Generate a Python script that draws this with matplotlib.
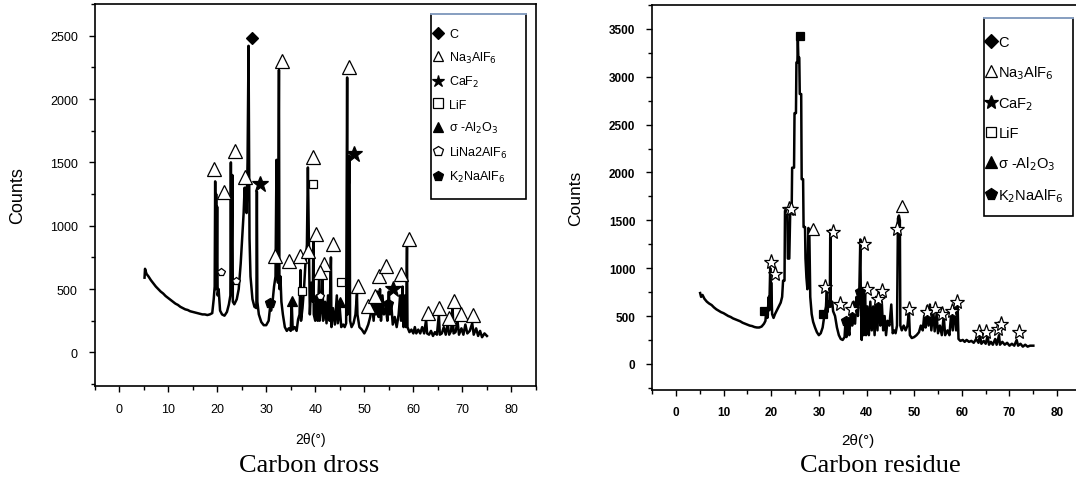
import matplotlib
matplotlib.use("Agg")
import matplotlib.pyplot as plt
from matplotlib.lines import Line2D
from matplotlib.patches import Rectangle
from matplotlib.ticker import MultipleLocator

plt.rcParams["font.family"] = ["Liberation Sans", "DejaVu Sans"]

# ---- Carbon dross pattern (2theta, counts) ----
dross_x = [5.2, 5.3, 5.6, 6.0, 6.5, 7.0, 7.5, 8.0, 8.5, 9.0, 9.5, 10.0, 10.5, 11.0, 11.5,
           12.0, 12.5, 13.0, 13.5, 14.0, 14.5, 15.0, 15.5, 16.0, 16.5, 17.0, 17.5, 18.0,
           18.5, 19.0, 19.3, 19.5, 19.6, 19.7, 19.8, 19.9, 20.0, 20.1, 20.3, 20.6, 21.0,
           21.5, 22.0, 22.4, 22.7, 22.8, 22.9, 23.1, 23.2, 23.5, 24.0, 24.4, 24.8, 25.1,
           25.4, 25.6, 25.7, 25.9, 26.0, 26.2, 26.4, 26.6, 26.8, 27.2, 27.6, 28.0, 28.1,
           28.2, 28.5, 29.0, 29.5, 30.0, 30.5, 30.8, 31.0, 31.3, 31.6, 31.9, 32.1, 32.2,
           32.4, 32.6, 32.7, 32.9, 33.1, 33.4, 33.8, 34.2, 34.6, 35.0, 35.2, 35.4, 35.8,
           36.2, 36.5, 36.8, 37.0, 37.1, 37.4, 37.7, 38.0, 38.3, 38.5, 38.7, 38.9, 39.2,
           39.5, 39.6, 39.7, 40.0, 40.3, 40.5, 40.8, 40.9, 41.2, 41.5, 41.6, 42.0, 42.3,
           42.6, 42.9, 43.2, 43.3, 43.6, 44.0, 44.4, 44.6, 45.0, 45.3, 45.7, 46.0, 46.3,
           46.5, 46.6, 46.8, 46.9, 47.0, 47.1, 47.4, 47.8, 48.2, 48.5, 48.6, 49.0, 49.5,
           50.0, 50.4, 50.8, 51.2, 51.6, 51.9, 52.2, 52.4, 52.7, 52.9, 53.2, 53.4, 53.7,
           54.0, 54.4, 54.7, 55.0, 55.2, 55.5, 55.8, 56.2, 56.6, 57.0, 57.3, 57.5, 57.8,
           58.0, 58.3, 58.5, 58.7, 58.8, 59.2, 59.6, 60.0, 60.3, 60.6, 61.0, 61.4, 61.8,
           62.2, 62.6, 62.8, 63.2, 63.6, 64.0, 64.4, 64.8, 65.2, 65.4, 65.8, 66.2, 66.6,
           67.0, 67.3, 67.7, 68.0, 68.2, 68.6, 69.0, 69.3, 69.8, 70.2, 70.6, 71.0, 71.5,
           72.0, 72.3, 72.8, 73.2, 73.6, 74.0, 74.5, 75.0]
dross_y = [590, 660, 620, 600, 570, 545, 520, 500, 480, 465, 445, 430, 415, 400, 385,
           375, 360, 350, 340, 335, 325, 320, 315, 310, 305, 300, 300, 295,
           300, 310, 420, 520, 1350, 500, 1250, 600, 1150, 450, 500, 330, 300,
           290, 320, 380, 450, 1500, 500, 1400, 400, 380, 420, 500, 700, 900,
           1100, 1300, 1150, 1300, 1100, 1500, 2420, 900, 600, 420, 360, 350, 1270,
           400, 300, 240, 215, 215, 250, 360, 330, 400, 520, 600, 1520, 650,
           550, 2230, 500, 600, 400, 300, 200, 170, 190, 170, 400, 180, 200,
           170, 260, 300, 650, 250, 350, 500, 700, 850, 1460, 900, 300, 550,
           400, 880, 300, 250, 450, 250, 600, 250, 350, 620, 250, 400, 230,
           450, 250, 750, 200, 350, 220, 450, 230, 350, 200, 220, 200, 230,
           2170, 300, 1550, 1340, 1550, 250, 200, 230, 300, 460, 300, 200, 180,
           150, 180, 220, 280, 380, 250, 420, 300, 480, 280, 500, 250, 450,
           300, 350, 250, 480, 300, 380, 220, 280, 200, 300, 450, 250, 520,
           200, 450, 200, 830, 200, 160, 180, 150, 200, 150, 180, 150, 200,
           150, 260, 150, 140, 170, 130, 160, 140, 300, 140, 150, 200, 140,
           230, 140, 170, 350, 150, 160, 250, 140, 190, 140, 220, 150, 170,
           230, 140, 190, 130, 170, 120, 150, 130]

# phase markers on the dross pattern
dross_c = ([27.1], [2479])
dross_na3alf6 = ([19.3, 21.3, 23.6, 25.7, 33.2, 39.5, 46.9, 40.2, 43.6, 31.7, 34.7, 36.9,
                  38.5, 41.8, 41.0, 48.7, 50.8, 52.9, 54.5, 57.5, 59.1, 62.9, 65.2, 68.2,
                  69.8, 72.2, 67.2, 52.2],
                 [1447, 1263, 1592, 1382, 2303, 1539, 2250, 934, 855, 763, 724, 763,
                  803, 697, 632, 526, 368, 600, 684, 618, 895, 311, 347, 408,
                  303, 295, 268, 447])
dross_caf2 = ([28.8, 47.8, 55.9], [1329, 1566, 500])
dross_lif = ([39.6, 45.3, 37.4], [1329, 553, 487])
dross_al2o3 = ([35.2, 45.0], [408, 395])
dross_lina2alf6 = ([20.7, 23.8, 41.0], [632, 566, 442])
dross_k2naalf6 = ([30.8, 54.8], [389, 382])

# ---- Carbon residue pattern ----
resid_x = [5.1, 5.3, 5.6, 6.0, 6.5, 7.0, 7.5, 8.0, 8.5, 9.0, 9.5, 10.0, 10.5, 11.0, 11.5,
           12.0, 12.5, 13.0, 13.5, 14.0, 14.5, 15.0, 15.5, 16.0, 16.5, 17.0, 17.5, 18.0,
           18.5, 18.8, 19.0, 19.2, 19.5, 19.6, 19.8, 19.9, 20.0, 20.2, 20.5, 20.8, 21.2,
           21.6, 22.0, 22.3, 22.5, 22.8, 22.9, 23.4, 23.5, 23.8, 24.0, 24.3, 24.4, 24.8,
           24.9, 25.2, 25.3, 25.5, 25.6, 25.7, 25.9, 26.0, 26.3, 26.4, 26.7, 26.8, 27.1,
           27.2, 27.4, 27.6, 27.8, 28.0, 28.2, 28.5, 28.8, 29.2, 29.6, 30.0, 30.4, 30.8,
           31.2, 31.5, 31.7, 31.8, 32.1, 32.3, 32.4, 32.5, 32.8, 33.0, 33.4, 33.8, 34.2,
           34.6, 35.0, 35.4, 35.6, 35.8, 36.1, 36.4, 36.7, 37.0, 37.3, 37.6, 37.9, 38.2,
           38.5, 38.7, 38.8, 39.0, 39.2, 39.4, 39.7, 39.9, 40.2, 40.5, 40.8, 41.1, 41.4,
           41.7, 42.0, 42.3, 42.6, 42.9, 43.2, 43.5, 43.8, 44.1, 44.4, 44.8, 45.2, 45.5,
           45.8, 46.1, 46.4, 46.6, 46.8, 47.0, 47.1, 47.4, 47.8, 48.2, 48.6, 48.9, 49.1,
           49.5, 50.0, 50.5, 51.0, 51.4, 51.8, 52.1, 52.4, 52.7, 53.0, 53.3, 53.6, 54.0,
           54.3, 54.7, 55.0, 55.4, 55.8, 56.2, 56.5, 57.0, 57.4, 57.8, 58.1, 58.5, 58.8,
           59.1, 59.3, 59.7, 60.2, 60.6, 61.0, 61.5, 62.0, 62.5, 63.0, 63.5, 63.8, 64.1,
           64.6, 65.0, 65.4, 65.7, 66.1, 66.5, 67.0, 67.3, 67.8, 68.0, 68.5, 69.0, 69.5,
           70.0, 70.5, 71.0, 71.5, 71.8, 72.3, 72.8, 73.3, 73.8, 74.3, 75.0]
resid_y = [740, 700, 720, 680, 650, 630, 615, 590, 570, 555, 540, 530, 515, 500, 490,
           475, 465, 455, 445, 430, 420, 410, 400, 395, 385, 380, 380, 390,
           420, 450, 580, 480, 700, 560, 1000, 600, 850, 520, 480, 520, 560,
           600, 640, 700, 870, 870, 1600, 1600, 1100, 1100, 1600, 1600, 2050, 2050,
           2620, 2620, 3150, 3150, 3380, 3200, 3200, 2820, 2820, 1930, 1930, 1430, 1430,
           1100, 900, 780, 1420, 1400, 700, 520, 440, 380, 330, 300, 320, 380,
           520, 600, 800, 540, 650, 600, 1400, 600, 650, 550, 500, 380, 300,
           260, 250, 280, 450, 280, 400, 300, 550, 400, 650, 420, 700, 500,
           780, 1300, 750, 250, 700, 300, 780, 300, 600, 300, 650, 350, 600,
           300, 700, 350, 760, 400, 650, 350, 500, 300, 450, 400, 620, 320,
           350, 320, 400, 1520, 1550, 1500, 400, 350, 400, 350, 400, 550, 300,
           270, 280, 300, 330, 400, 350, 500, 380, 600, 400, 620, 350, 560,
           340, 520, 320, 400, 300, 500, 300, 350, 300, 550, 350, 600, 350,
           640, 260, 240, 250, 230, 250, 230, 240, 220, 260, 220, 300, 210,
           240, 210, 290, 200, 230, 200, 260, 200, 300, 200, 230, 200, 220,
           190, 210, 190, 250, 190, 210, 180, 200, 180, 190, 190]

resid_c = ([26.0, 18.5, 30.8], [3423, 557, 522])
resid_na3alf6 = ([28.7, 47.4], [1410, 1654])
resid_caf2 = ([20.0, 20.7, 23.7, 24.2, 33.0, 39.4, 46.5, 31.2, 34.4, 36.9, 40.1, 43.3,
               42.5, 49.0, 52.6, 54.3, 55.8, 57.9, 59.0, 63.6, 65.0, 67.5, 68.2, 72.0],
              [1062, 940, 1619, 1619, 1376, 1254, 1410, 801, 627, 575, 784, 766,
               679, 575, 540, 575, 522, 557, 644, 331, 331, 366, 418, 331])
resid_k2naalf6 = ([35.8, 38.7], [453, 749])

C_LABEL = "C"
NA_LABEL = r"Na$_3$AlF$_6$"
CA_LABEL = r"CaF$_2$"
LIF_LABEL = "LiF"
AL_LABEL = r"σ -Al$_2$O$_3$"
LINA_LABEL = r"LiNa2AlF$_6$"
K_LABEL = r"K$_2$NaAlF$_6$"

W, H = 1076, 481
fig = plt.figure(figsize=(W / 100, H / 100), dpi=100)


def fx(px):
    return px / W


def fy(py):
    return 1 - py / H


def style_axes(ax, fs, bold=False):
    ax.xaxis.set_major_locator(MultipleLocator(10))
    ax.xaxis.set_minor_locator(MultipleLocator(5))
    ax.yaxis.set_major_locator(MultipleLocator(500))
    ax.yaxis.set_minor_locator(MultipleLocator(250))
    ax.set_xlim(-5, 85)
    ax.tick_params(which="both", direction="out", top=False, right=False,
                   labelsize=fs, width=1, pad=8)
    ax.tick_params(which="major", length=4)
    ax.tick_params(which="minor", length=3)
    if bold:
        for t in ax.get_xticklabels() + ax.get_yticklabels():
            t.set_fontweight("bold")
    for s in ax.spines.values():
        s.set_linewidth(1.2)


def mk(ax, pts, marker, filled, ms):
    ax.plot(pts[0], pts[1], ls="none", marker=marker, ms=ms,
            mfc="black" if filled else "white", mec="black", mew=0.9, zorder=3)


def handle(marker, filled, ms):
    return Line2D([], [], ls="none", marker=marker, ms=ms,
                  mfc="black" if filled else "white", mec="black", mew=0.9)


# ---------------- left panel ----------------
ax1 = fig.add_axes([fx(94.5), fy(387), fx(536 - 94.5), (387 - 5) / H])
ax1.plot(dross_x, dross_y, color="black", lw=1.8)
mk(ax1, dross_c, "D", True, 6.5)
mk(ax1, dross_na3alf6, "^", False, 10)
mk(ax1, dross_caf2, "*", True, 12)
mk(ax1, dross_lif, "s", False, 6)
mk(ax1, dross_al2o3, "^", True, 7)
mk(ax1, dross_lina2alf6, "p", False, 6)
mk(ax1, dross_k2naalf6, "p", True, 7)
style_axes(ax1, 9)
ax1.set_ylim(-265, 2750)
ax1.set_xlabel("2θ(°)", fontsize=10, va="center")
ax1.xaxis.set_label_coords(0.49, -0.139)
ax1.set_ylabel("Counts", fontsize=13, va="center")
ax1.yaxis.set_label_coords(-0.175, 0.5)

h1 = [handle("D", True, 6), handle("^", False, 7.5), handle("*", True, 9),
      handle("s", False, 6.5), handle("^", True, 7.5), handle("p", False, 7.5),
      handle("p", True, 7.5)]
l1 = [C_LABEL, NA_LABEL, CA_LABEL, LIF_LABEL, AL_LABEL, LINA_LABEL, K_LABEL]
fig.legend(h1, l1, loc="upper left", bbox_to_anchor=(fx(432), fy(29)),
           frameon=False, borderpad=0, borderaxespad=0, fontsize=9,
           handlelength=0.9, handletextpad=0.45, labelspacing=0.76)
fig.add_artist(Rectangle((fx(431), fy(200)), fx(526 - 431), (200 - 15) / H,
                         transform=fig.transFigure, fill=False, ec="black", lw=1.2))
fig.add_artist(Line2D([fx(431), fx(526)], [fy(15), fy(15)], transform=fig.transFigure,
                      color="#9db8e0", lw=1.2))

# ---------------- right panel ----------------
ax2 = fig.add_axes([fx(652), fy(390.7), fx(1081 - 652), (390.7 - 6) / H])
ax2.plot(resid_x, resid_y, color="black", lw=1.8)
mk(ax2, resid_c, "s", True, 5.5)
mk(ax2, resid_na3alf6, "^", False, 9)
mk(ax2, resid_caf2, "*", False, 11)
mk(ax2, resid_k2naalf6, "p", True, 7)
style_axes(ax2, 8.5, bold=True)
ax2.set_ylim(-270, 3750)
ax2.spines["right"].set_visible(False)
ax2.set_xlabel("2θ(°)", fontsize=11, va="center")
ax2.xaxis.set_label_coords(0.48, -0.13)
ax2.set_ylabel("Counts", fontsize=12.5, va="center")
ax2.yaxis.set_label_coords(-0.179, 0.5)

h2 = [handle("D", True, 7), handle("^", False, 8.5), handle("*", True, 10),
      handle("s", False, 7.5), handle("^", True, 8.5), handle("p", True, 8.5)]
l2 = [C_LABEL, NA_LABEL, CA_LABEL, LIF_LABEL, AL_LABEL, K_LABEL]
fig.legend(h2, l2, loc="upper left", bbox_to_anchor=(fx(985), fy(36)),
           frameon=False, borderpad=0, borderaxespad=0, fontsize=10.5,
           handlelength=0.8, handletextpad=0.12, labelspacing=0.97)
fig.add_artist(Rectangle((fx(984), fy(217)), fx(1073 - 984), (217 - 19) / H,
                         transform=fig.transFigure, fill=False, ec="black", lw=1.2))
fig.add_artist(Line2D([fx(984), fx(1073)], [fy(19), fy(19)], transform=fig.transFigure,
                      color="#9db8e0", lw=1.2))

# captions
fig.text(fx(309), fy(466), "Carbon dross", ha="center", va="center",
         family="Liberation Serif", fontsize=19)
fig.text(fx(880), fy(466), "Carbon residue", ha="center", va="center",
         family="Liberation Serif", fontsize=19)

fig.savefig("out.png", dpi=100)
